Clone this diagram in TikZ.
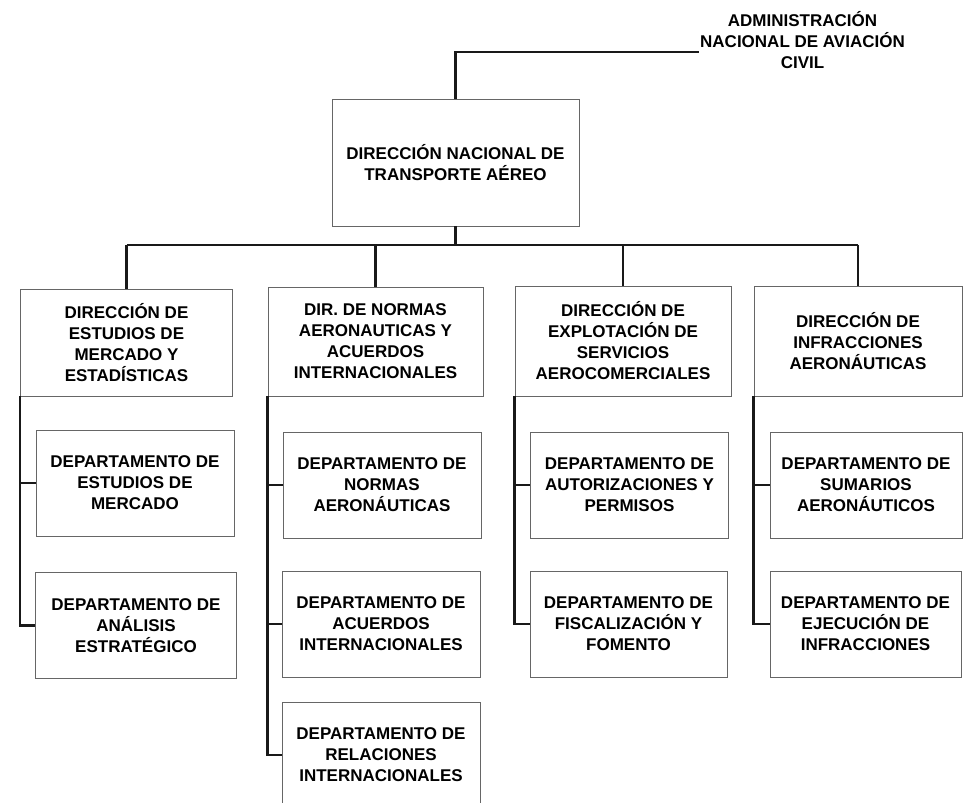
\documentclass[tikz,border=0pt]{standalone}
\usepackage{fontspec}
\setmainfont{Liberation Sans}
\usetikzlibrary{positioning, calc}

\begin{document}
\begin{tikzpicture}[x=1pt,y=-1pt,
		box/.style={draw=black!60,line width=0.9pt,fill=white,align=center,inner sep=0pt,
			font=\fontsize{17}{21}\selectfont\bfseries},
		main node/.style={box,minimum width=247pt,minimum height=127pt},
		dir node/.style={box,minimum width=214pt,minimum height=110pt},
		dept node/.style={box,minimum width=198pt,minimum height=106pt},
		link/.style={line width=2.2pt,black!90}]
		
		\useasboundingbox[fill=white] (0,0) rectangle (972,803);
		
		% top of the chart
		\node[align=center,inner sep=0pt,font=\fontsize{17}{21}\selectfont\bfseries] (anac) at (802.5,40) {ADMINISTRACIÓN\\NACIONAL DE AVIACIÓN\\CIVIL};
		\node[main node] (dnta) at (455.5,162.5) {DIRECCIÓN NACIONAL DE\\TRANSPORTE AÉREO};
		
		% direcciones
		\node[dir node,minimum width=212pt,minimum height=107pt] (est) at (126.5,342.5) {DIRECCIÓN DE\\ESTUDIOS DE\\MERCADO Y\\ESTADÍSTICAS};
		\node[dir node,minimum width=215pt,minimum height=109pt] (norm) at (375.5,341.5) {DIR. DE NORMAS\\AERONAUTICAS Y\\ACUERDOS\\INTERNACIONALES};
		\node[dir node,minimum width=216pt] (expl) at (623,341) {DIRECCIÓN DE\\EXPLOTACIÓN DE\\SERVICIOS\\AEROCOMERCIALES};
		\node[dir node,minimum width=208pt] (infr) at (858,341) {DIRECCIÓN DE\\INFRACCIONES\\AERONÁUTICAS};
		
		% departamentos
		\node[dept node] (est1) at (135,483) {DEPARTAMENTO DE\\ESTUDIOS DE\\MERCADO};
		\node[dept node,minimum width=201pt] (est2) at (136,625.5) {DEPARTAMENTO DE\\ANÁLISIS\\ESTRATÉGICO};
		\node[dept node] (norm1) at (382,485) {DEPARTAMENTO DE\\NORMAS\\AERONÁUTICAS};
		\node[dept node] (norm2) at (381,624) {DEPARTAMENTO DE\\ACUERDOS\\INTERNACIONALES};
		\node[dept node] (norm3) at (381,755) {DEPARTAMENTO DE\\RELACIONES\\INTERNACIONALES};
		\node[dept node] (expl1) at (629.5,485) {DEPARTAMENTO DE\\AUTORIZACIONES Y\\PERMISOS};
		\node[dept node,minimum width=197pt] (expl2) at (628.5,624) {DEPARTAMENTO DE\\FISCALIZACIÓN Y\\FOMENTO};
		\node[dept node,minimum width=192pt] (infr1) at (866,485) {DEPARTAMENTO DE\\SUMARIOS\\AERONÁUTICOS};
		\node[dept node,minimum width=191pt] (infr2) at (865.5,624) {DEPARTAMENTO DE\\EJECUCIÓN DE\\INFRACCIONES};
		
		% connectors
		\coordinate (anacend) at ($(anac.west)+(-1,11.7)$);
		\draw[link] (dnta.north) |- (anacend);
		\draw[link] (dnta.south) -- ++(0,18.5) coordinate (bus);
		\draw[link] (bus -| est.north) -- (bus -| infr.north);
		\foreach \d in {est,norm,expl,infr}
		\draw[link] (bus -| \d.north) -- (\d.north);
		
		\draw[link] (est.south west) |- (est2.west);
		\draw[link] (est1.west -| est.south west) -- (est1.west);
		\draw[link] (norm.south west) |- (norm3.west);
		\foreach \d in {norm1,norm2}
		\draw[link] (\d.west -| norm.south west) -- (\d.west);
		\draw[link] (expl.south west) |- (expl2.west);
		\draw[link] (expl1.west -| expl.south west) -- (expl1.west);
		\draw[link] (infr.south west) |- (infr2.west);
		\draw[link] (infr1.west -| infr.south west) -- (infr1.west);
	\end{tikzpicture}
\end{document}
